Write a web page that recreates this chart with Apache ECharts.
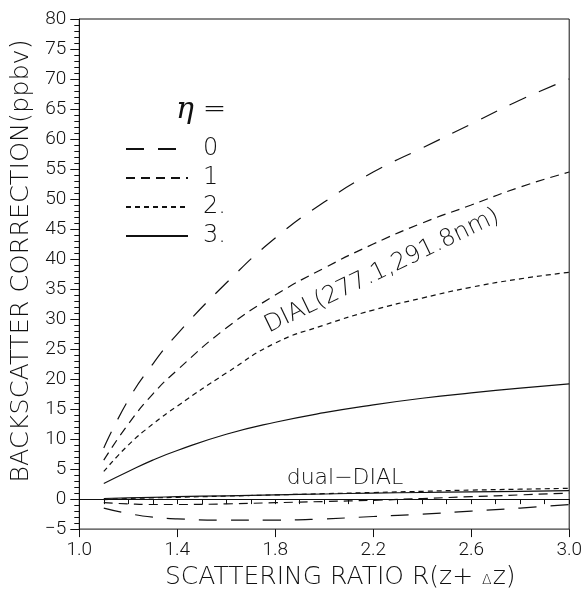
<!DOCTYPE html>
<html>
<head>
<meta charset="utf-8">
<script src="https://cdn.jsdelivr.net/npm/echarts@6/dist/echarts.min.js"></script>
<style>html,body{margin:0;padding:0;background:#fff}#c{width:585px;height:595px}</style>
</head>
<body>
<div id="c"></div>
<script>
// ---- data ----
const ratioX = [1.1, 1.2, 1.3, 1.4, 1.6, 1.8, 2.0, 2.2, 2.4, 2.6, 2.8, 3.0];
const etaNames = ['0', '1', '2.', '3.'];
const dial0 = [8.5, 16.5, 22.5, 27.5, 36, 43.5, 49.5, 54.5, 58.5, 62.5, 66.5, 70];
const dial1 = [6.5, 12.5, 17.5, 21.5, 28.5, 34, 38.5, 42.5, 46, 49, 52, 54.5];
const dial2 = [4.6, 9, 12.5, 15.5, 21, 26, 29, 31.5, 33.5, 35.3, 36.7, 37.8];
const dial3 = [2.6, 4.6, 6.5, 8.1, 10.8, 12.8, 14.4, 15.7, 16.8, 17.7, 18.5, 19.2];
const dual0 = [-1.5, -2.4, -3.0, -3.3, -3.5, -3.5, -3.3, -2.9, -2.5, -2.0, -1.5, -0.9];
const dual1 = [-0.6, -0.8, -0.9, -0.9, -0.8, -0.6, -0.4, -0.2, 0.1, 0.4, 0.7, 1.0];
const dual2 = [-0.1, 0.1, 0.2, 0.3, 0.5, 0.7, 0.9, 1.1, 1.3, 1.5, 1.65, 1.8];
const dual3 = [0.1, 0.2, 0.3, 0.4, 0.55, 0.7, 0.85, 1.0, 1.1, 1.2, 1.3, 1.4];
const xLabelValues = [1.0, 1.4, 1.8, 2.2, 2.6, 3.0];

const dashes = [[18, 14], [9, 6], [5, 4], 'solid'];
const numFont = 'Roboto';
const txtFont = 'DejaVu Sans';
const ink = '#111';

function pairs(ys) { return ratioX.map((x, i) => [x, ys[i]]); }
function mk(name, ys, k) {
  return {
    name: name, type: 'line', data: pairs(ys), smooth: true, symbol: 'none',
    lineStyle: { color: ink, width: 1.2, type: dashes[k] },
    itemStyle: { color: ink }
  };
}
const dialSets = [dial0, dial1, dial2, dial3];
const dualSets = [dual0, dual1, dual2, dual3];
const series = [];
etaNames.forEach((n, k) => { series.push(mk(n, dialSets[k], k)); });
etaNames.forEach((n, k) => { series.push(mk(n, dualSets[k], k)); });

const chart = echarts.init(document.getElementById('c'), null, { renderer: 'canvas' });
chart.setOption({
  backgroundColor: '#fff',
  animation: false,
  grid: { left: 76, right: 11, top: 19, bottom: 58, show: true, borderColor: ink, borderWidth: 1, backgroundColor: 'transparent' },
  xAxis: [{
    type: 'value', min: 1.0, max: 3.0, interval: 0.1,
    axisLine: { show: true, lineStyle: { color: ink, width: 1 } },
    axisTick: { show: true, inside: false, length: 5, lineStyle: { color: ink } },
    axisLabel: { customValues: xLabelValues, formatter: v => v.toFixed(1), color: ink, fontFamily: numFont, fontWeight: 300, fontSize: 19, margin: 12 },
    splitLine: { show: false },
    name: '{n|SCATTERING RATIO R(z+ }{s|Δ}{n|z)}', nameLocation: 'middle', nameGap: 33,
    nameTextStyle: { color: ink, fontFamily: txtFont, fontWeight: 200, fontSize: 25, padding: [0, 0, 0, 32],
      rich: {
        n: { fontSize: 25, fontFamily: txtFont, fontWeight: 200, color: ink },
        s: { fontSize: 14, fontFamily: txtFont, fontWeight: 200, color: ink, padding: [6, 1, 0, 1] }
      } }
  }, {
    type: 'value', min: 1.0, max: 3.0, position: 'bottom', gridIndex: 0,
    axisLine: { show: false },
    axisTick: { show: true, customValues: xLabelValues, length: 8, lineStyle: { color: ink } },
    axisLabel: { show: false }, splitLine: { show: false }
  }],
  yAxis: {
    type: 'value', min: -5, max: 80, interval: 5,
    axisLine: { show: true, lineStyle: { color: ink, width: 1 } },
    axisTick: { show: true, length: 9, lineStyle: { color: ink } },
    minorTick: { show: true, splitNumber: 5, length: 5, lineStyle: { color: ink } },
    axisLabel: { formatter: v => String(v).replace('-', '\u2212'), color: ink, fontFamily: numFont, fontWeight: 300, fontSize: 19, margin: 13 },
    splitLine: { show: false },
    name: 'BACKSCATTER CORRECTION(ppbv)', nameLocation: 'middle', nameRotate: 90, nameGap: 42,
    nameTextStyle: { color: ink, fontFamily: txtFont, fontWeight: 200, fontSize: 25.5, padding: [0, 0, 0, 26] }
  },
  legend: {
    data: etaNames, orient: 'vertical', left: 120, top: 132, itemWidth: 62, itemHeight: 14, itemGap: 5,
    selectedMode: false,
    itemStyle: { opacity: 0 },
    textStyle: { color: ink, fontFamily: txtFont, fontWeight: 200, fontSize: 24, lineHeight: 20, padding: [0, 0, 0, 10] }
  },
  graphic: [
    { type: 'text', left: 176, top: 95, style: { text: '{e|η} =', rich: { e: { fontFamily: 'DejaVu Serif', fontStyle: 'italic', fontSize: 30, fill: ink } }, fontFamily: txtFont, fontWeight: 200, fontSize: 28, fill: ink } },
    { type: 'text', x: 382, y: 271, rotation: 0.45, style: { text: 'DIAL(277.1,291.8nm)', fontFamily: txtFont, fontWeight: 200, fontSize: 24, fill: ink, align: 'center', verticalAlign: 'middle' } },
    { type: 'text', x: 345, y: 478, style: { text: 'dual\u2212DIAL', fontFamily: txtFont, fontWeight: 200, fontSize: 22, fill: ink, align: 'center', verticalAlign: 'middle' } }
  ],
  series: series
});
</script>
</body>
</html>
